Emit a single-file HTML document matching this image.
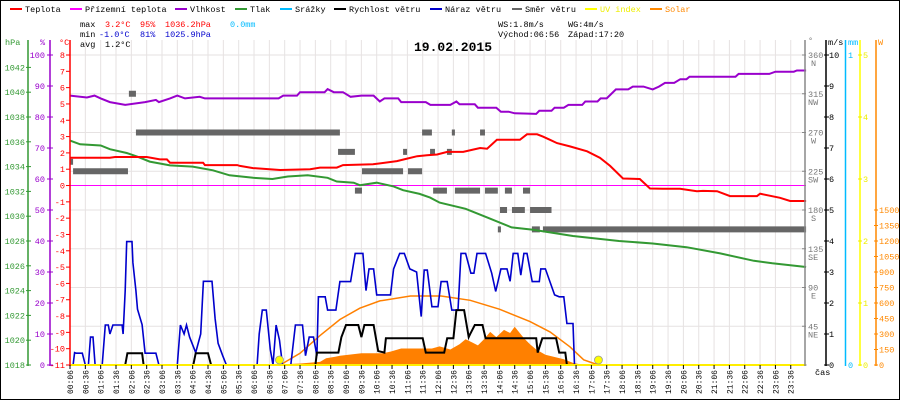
<!DOCTYPE html>
<html><head><meta charset="utf-8">
<style>
html,body{margin:0;padding:0;background:#fff;}
svg{display:block;font-family:"Liberation Mono",monospace;}
</style></head>
<body>
<svg id="chart" width="900" height="400" viewBox="0 0 900 400" xmlns="http://www.w3.org/2000/svg">
<rect x="0.5" y="0.5" width="899" height="399" fill="#fff" stroke="#000"/>
<g id="grid"></g>
<g id="legend" font-size="8.5">
  <g><rect x="10" y="8" width="12" height="2" fill="#f00"/><text x="25" y="12">Teplota</text></g>
  <g><rect x="70" y="8" width="12" height="2" fill="#f0f"/><text x="85" y="12">Přízemní teplota</text></g>
  <g><rect x="175" y="8" width="12" height="2" fill="#90c"/><text x="190" y="12">Vlhkost</text></g>
  <g><rect x="235" y="8" width="12" height="2" fill="#393"/><text x="250" y="12">Tlak</text></g>
  <g><rect x="280" y="8" width="12" height="2" fill="#0bf"/><text x="295" y="12">Srážky</text></g>
  <g><rect x="334" y="8" width="12" height="2" fill="#000"/><text x="349" y="12">Rychlost větru</text></g>
  <g><rect x="430" y="8" width="12" height="2" fill="#00c"/><text x="445" y="12">Náraz větru</text></g>
  <g><rect x="512" y="8" width="10" height="2" fill="#666"/><text x="525" y="12">Směr větru</text></g>
  <g><rect x="585" y="8" width="12" height="2" fill="#ff0"/><text x="600" y="12" fill="#ee0">UV index</text></g>
  <g><rect x="650" y="8" width="12" height="2" fill="#f80"/><text x="665" y="12" fill="#f80">Solar</text></g>
</g>
<g font-size="8.5">
  <text x="80" y="27">max</text><text x="105" y="27" fill="#f00">3.2°C</text><text x="140" y="27" fill="#f00">95%</text><text x="165" y="27" fill="#f00">1036.2hPa</text><text x="230" y="27" fill="#0bf">0.0mm</text>
  <text x="80" y="37">min</text><text x="99" y="37" fill="#00c">-1.0°C</text><text x="140" y="37" fill="#00c">81%</text><text x="165" y="37" fill="#00c">1025.9hPa</text>
  <text x="80" y="47">avg</text><text x="105" y="47">1.2°C</text>
  <text x="498" y="27">WS:1.8m/s</text><text x="568" y="27">WG:4m/s</text>
  <text x="498" y="37">Východ:06:56</text><text x="568" y="37">Západ:17:20</text>
</g>
<text x="414" y="51" font-size="13" font-weight="bold">19.02.2015</text>
<g id="series"></g>
<g id="axes" font-size="8.5"></g>
</svg>
<script>
// ---- data ----
const tempT = [0.1,1.4,1.57,2.6,3.03,3.26,3.36,4.44,4.5,5.55,5.64,6.07,6.95,7.93,8.25,8.8,9.0,9.98,10.76,11.09,11.42,11.74,12.07,12.4,12.92,13.24,13.47,13.7,14.02,14.77,15.0,15.33,15.52,15.75,15.98,16.4,16.96,17.38,17.71,18.13,18.68,19.01,19.43,19.99,20.54,20.74,21.2,21.62,22.5,22.6,23.25,23.58,24.1];
const tempV = [1.7,1.7,1.75,1.75,1.6,1.6,1.4,1.4,1.25,1.25,1.2,1.07,0.95,1.0,1.1,1.1,1.25,1.3,1.5,1.65,1.8,1.85,1.9,2.06,2.06,2.2,2.3,2.26,2.8,2.8,3.14,3.14,3.0,2.8,2.6,2.4,2.1,1.7,1.2,0.43,0.4,-0.18,-0.2,-0.2,-0.35,-0.33,-0.35,-0.65,-0.65,-0.5,-0.75,-0.95,-0.95];
const humT = [0.1,0.65,0.9,1.1,1.4,1.9,2.55,2.9,3.0,3.36,3.6,3.85,4.33,4.5,6.9,7.05,7.5,7.6,8.4,8.5,8.7,9.0,9.25,9.6,10.0,10.2,10.35,10.8,10.9,11.7,11.85,12.5,12.7,12.8,13.3,13.4,14.0,14.15,14.4,14.6,15.3,15.4,15.8,15.9,16.2,16.35,16.8,16.9,17.3,17.4,17.6,17.9,18.3,18.45,18.8,19.1,19.3,19.5,19.8,20.0,20.2,20.3,21.8,21.9,22.9,23.1,23.7,23.8,24.1];
const humV = [86.9,86.3,86.9,86,84.8,83.9,84.8,85.5,84.8,86,86.9,86,86.5,86,86,86.9,86.9,88,88,89,88,88,86.5,86.9,86.9,85,86,86,84.8,84.8,83.9,83.9,85,84.1,84.1,83,83,81.7,81.7,81.2,81,82,82,83,83,83.9,83.9,85,85,86,86,88.9,88.9,89.8,89.8,88.9,89.8,91,91,92.2,92.2,93,93,93.9,93.9,94.6,94.6,95,95];
const presT = [0.1,0.43,1.1,1.4,1.95,2.3,2.7,3.36,4.1,4.76,5.3,6.07,6.7,7.2,7.85,8.5,8.8,9.35,9.55,10.1,10.65,10.96,11.5,11.84,12.15,13.0,13.7,14.5,15.2,16.5,18.0,19.1,20.2,21.3,22.4,23.0,24.1];
const presV = [1036.1,1035.8,1035.7,1035.4,1035.1,1034.8,1034.4,1034.1,1034.0,1033.7,1033.3,1033.1,1033.0,1033.2,1033.3,1033.1,1032.8,1032.7,1032.5,1032.7,1032.4,1032.1,1031.8,1031.5,1031.1,1030.6,1029.9,1029.1,1028.9,1028.4,1028.0,1027.8,1027.5,1027.0,1026.4,1026.2,1025.9];
const gustT = [0.1,0.2,0.25,0.3,0.5,0.6,0.7,0.77,0.85,0.92,1.15,1.25,1.35,1.4,1.5,1.8,1.83,1.9,1.95,2.12,2.15,2.25,2.3,2.45,2.55,2.9,3.0,3.6,3.7,3.82,3.9,4.0,4.2,4.36,4.45,4.73,4.83,4.93,5.08,5.2,6.2,6.27,6.37,6.5,6.63,6.72,6.82,6.93,7.03,7.3,7.45,7.68,7.78,7.9,8.04,8.15,8.2,8.42,8.5,8.77,8.9,9.25,9.4,9.65,9.75,9.85,10.0,10.1,10.55,10.65,10.85,11.0,11.18,11.4,11.55,11.65,11.75,11.9,12.1,12.2,12.4,12.55,12.75,12.85,13.0,13.17,13.27,13.37,13.65,13.85,13.98,14.15,14.35,14.45,14.55,14.7,14.8,14.9,15.0,15.17,15.4,15.45,15.6,15.9,16.05,16.2,16.3,16.5,16.55,24.1];
const gustV = [0,0,0.4,0.38,0.38,0,0,0.9,0.9,0,0,1.29,1.29,1.0,1.29,1.29,1.0,2.4,3.98,3.98,3.3,2.4,1.8,1.3,0.38,0.38,0,0,1.29,1.0,1.29,0.9,0.4,1.0,2.7,2.7,1.5,0.7,0.3,0,0,1.0,1.77,1.77,0.5,0,1.29,0.8,0,0,1.29,1.29,0.3,0.9,0.9,0.3,2.2,2.2,1.77,1.77,2.69,2.69,3.6,3.6,2.4,3.1,3.1,2.26,2.26,3.1,3.6,3.6,3.1,3.0,1.56,3.06,3.06,1.88,1.88,2.69,2.69,1.77,1.77,3.6,3.6,2.96,2.96,3.6,3.6,2.96,2.37,3.1,3.1,2.7,3.6,3.6,2.9,3.6,3.6,2.69,2.69,3.1,3.1,2.26,2.2,2.2,1.34,1.34,0,0];
const windT = [0.1,1.9,1.97,2.45,2.5,4.12,4.2,4.6,4.7,8.1,8.15,8.85,8.95,9.1,9.5,9.6,9.7,10.0,10.15,10.35,10.4,11.6,11.7,12.3,12.4,12.6,12.7,12.95,13.1,13.15,13.3,13.55,13.65,15.3,15.35,15.5,15.95,16.05,16.25,16.3,24.1];
const windV = [0,0,0.38,0.38,0,0,0.38,0.38,0,0,0.4,0.4,0.9,1.29,1.29,0.9,1.29,1.29,0.45,0.4,0.86,0.86,0.4,0.4,0.86,0.86,1.77,1.77,0.9,1.0,1.29,1.29,0.86,0.86,0.4,0.86,0.86,0.4,0.4,0,0];
const solarT = [6.5,6.85,7.6,8.25,8.45,8.75,8.9,9.6,10.3,10.55,10.9,11.9,12.15,12.5,12.8,13.0,13.2,13.4,13.6,13.8,14.0,14.25,14.45,14.6,14.9,15.1,15.3,15.6,16.2,16.5,16.85];
const solarV = [0,5,15,30,65,80,90,113,113,130,160,160,180,150,200,250,220,190,250,320,270,340,310,370,260,200,150,100,55,20,0];
const clearT = [6.95,7.6,8.25,8.9,9.55,10.2,11.2,12.2,13.15,14.1,15.1,15.75,16.4,16.85,17.33];
const clearV = [0,113,285,440,550,620,668,668,626,540,420,320,176,50,0];
const dirStart = [0.1,0.2,2.02,2.25,8.84,9.39,9.62,10.96,11.12,11.58,11.84,11.94,12.39,12.55,12.65,13.47,13.63,14.05,14.12,14.28,14.51,14.87,15.1,15.16,15.52];
const dirEnd   = [0.2,1.99,2.25,8.9,9.39,9.62,10.96,11.09,11.58,11.9,12.0,12.39,12.55,12.65,13.47,13.63,14.05,14.15,14.35,14.51,14.93,15.1,15.8,15.42,24.1];
const dirDeg   = [236,225,315,270,247.5,202.5,225,247.5,225,270,247.5,202.5,247.5,270,202.5,270,202.5,157.5,180,202.5,180,202.5,180,157.5,157.5];
const uvMarkT = [6.93,17.33];
const uvMarkV = [0,0];
const hpaTicks = [1042,1040,1038,1036,1034,1032,1030,1028,1026,1024,1022,1020,1018];
const pctTicks = [100,90,80,70,60,50,40,30,20,10,0];
const degTicks = [360,315,270,225,180,135,90,45];
const degNames = ["N","NW","W","SW","S","SE","E","NE"];
const msTicks = [10,9,8,7,6,5,4,3,2,1,0];
const uvTicks = [5,4,3,2,1,0];
const wTicks = [1500,1350,1200,1050,900,750,600,450,300,150,0];
const timeLabels = [];
for (let i = 0; i < 48; i++) { const h = Math.floor(i/2), m = i%2 ? 36 : 6; timeLabels.push(String(h).padStart(2,'0') + ':' + String(m).padStart(2,'0')); }

// ---- scales ----
const X = h => 70 + (h - 0.1) * 30.67;
const yT = t => 55 + (8 - t) * 310 / 19;
const yH = p => 365 - p * 3.1;
const yP = p => 55 + (1043 - p) * 12.4;
const yV = v => 365 - v * 31;
const yD = d => 365 - d * 310 / 360;
const yS = w => 365 - w * 0.103333;
const yU = u => 365 - u * 62;

const NS = 'http://www.w3.org/2000/svg';
function mk(parent, tag, attrs, txt) {
  const e = document.createElementNS(NS, tag);
  for (const k in attrs) e.setAttribute(k, attrs[k]);
  if (txt !== undefined) e.textContent = txt;
  parent.appendChild(e);
  return e;
}
const grid = document.getElementById('grid');
const series = document.getElementById('series');
const axes = document.getElementById('axes');

for (let i = 0; i < 48; i++) {
  const x = 70 + i * 15.335;
  const l = mk(grid, 'line', {x1:x, x2:x, y1:40, y2:365, stroke:'#e6e2e2', 'stroke-width':1});
  
  
}
for (let i = 0; i <= 8; i++) {
  const y = 55 + i * 38.75;
  const l = mk(grid, 'line', {x1:70, x2:806, y1:y, y2:y, stroke:'#e6e2e2', 'stroke-width':1});
  
  
}
const zl = mk(grid, 'line', {x1:70, x2:806, y1:yT(0), y2:yT(0), stroke:'#999', 'stroke-width':1});



function pts(T, V, fy) { return T.map((t, i) => X(t).toFixed(1) + ',' + fy(V[i]).toFixed(1)).join(' '); }

const sp = mk(series, 'polygon', {points: X(solarT[0]) + ',365 ' + pts(solarT, solarV, yS) + ' ' + X(solarT[solarT.length-1]) + ',365', fill:'#ff8000'});


const cs = mk(series, 'polyline', {points: pts(clearT, clearV, yS), fill:'none', stroke:'#ff8000', 'stroke-width':1.5});


for (let i = 0; i < dirDeg.length; i++) {
  const r = mk(series, 'rect', {x: X(dirStart[i]), y: yD(dirDeg[i]) - 3, width: X(dirEnd[i]) - X(dirStart[i]), height: 6, fill:'#666'});
  
  
}
const gt = mk(series, 'line', {x1:70, x2:806, y1:yT(0), y2:yT(0), stroke:'#f0f', 'stroke-width':1});


const pl = mk(series, 'polyline', {points: pts(presT, presV, yP), fill:'none', stroke:'#339933', 'stroke-width':2});


const hl = mk(series, 'polyline', {points: pts(humT, humV, yH), fill:'none', stroke:'#9900cc', 'stroke-width':2});


const tl = mk(series, 'polyline', {points: pts(tempT, tempV, yT), fill:'none', stroke:'#f00', 'stroke-width':2});


const gl = mk(series, 'polyline', {points: pts(gustT, gustV, yV), fill:'none', stroke:'#0000cc', 'stroke-width':1.6});


const wl = mk(series, 'polyline', {points: pts(windT, windV, yV), fill:'none', stroke:'#000', 'stroke-width':2});


const ub = mk(series, 'line', {x1:70, x2:806, y1:365, y2:365, stroke:'#ffee00', 'stroke-width':2});


for (let i = 0; i < uvMarkT.length; i++) {
  const c = mk(series, 'circle', {cx: X(uvMarkT[i]), cy: yU(uvMarkV[i]) - 5, r: 4, fill:'#ff0', stroke:'#999', 'stroke-width':0.8});
  
  
}

function vaxis(x, color, name) {
  const l = mk(axes, 'line', {x1:x, x2:x, y1:40, y2:366, stroke:color, 'stroke-width':1.5});
  
  
}
vaxis(28, '#339933', 'hpa-axis');
vaxis(50, '#9900cc', 'humidity-axis');
vaxis(70, '#f00', 'temperature-axis');
vaxis(805, '#888', 'direction-axis');
vaxis(826, '#000', 'wind-axis');
vaxis(845.5, '#0bf', 'rain-axis');
vaxis(860, '#ff0', 'uv-axis');
vaxis(876, '#f80', 'solar-axis');

function tickLab(x, y, txt, color, anchor, name) {
  const t = mk(axes, 'text', {x:x, y:y + 3, fill:color, 'text-anchor':anchor}, txt);
  
  
}
hpaTicks.forEach(p => { mk(axes, 'line', {x1:26, x2:31, y1:yP(p), y2:yP(p), stroke:'#339933'}); tickLab(25, yP(p), String(p), '#339933', 'end', 'hpa-tick-label'); });
pctTicks.forEach(p => { mk(axes, 'line', {x1:47, x2:53, y1:yH(p), y2:yH(p), stroke:'#9900cc'}); tickLab(45, yH(p), String(p), '#9900cc', 'end', 'humidity-tick-label'); });
for (let t = 8; t >= -11; t--) { mk(axes, 'line', {x1:66, x2:70, y1:yT(t), y2:yT(t), stroke:'#f00'}); tickLab(65, yT(t), String(t), '#f00', 'end', 'temperature-tick-label'); }
degTicks.forEach((d, i) => { mk(axes, 'line', {x1:802, x2:806, y1:yD(d), y2:yD(d), stroke:'#888'}); tickLab(808, yD(d), String(d), '#777', 'start', 'direction-tick-label'); tickLab(808 + (degNames[i].length === 1 ? 3 : 0), yD(d) + 8, degNames[i], '#777', 'start', 'direction-name-label'); });
msTicks.forEach(v => { mk(axes, 'line', {x1:824, x2:829, y1:yV(v), y2:yV(v), stroke:'#000'}); tickLab(829, yV(v), String(v), '#000', 'start', 'wind-tick-label'); });
tickLab(848, 55, '1', '#0bf', 'start', 'rain-tick-label');
tickLab(848, 365, '0', '#0bf', 'start', 'rain-tick-label');
uvTicks.forEach(u => { mk(axes, 'line', {x1:858, x2:862, y1:yU(u), y2:yU(u), stroke:'#ee0'}); tickLab(863, yU(u), String(u), '#ee0', 'start', 'uv-tick-label'); });
wTicks.forEach(w => { mk(axes, 'line', {x1:874, x2:878, y1:yS(w), y2:yS(w), stroke:'#f80'}); tickLab(879, yS(w), String(w), '#f80', 'start', 'solar-tick-label'); });

tickLab(5, 42, 'hPa', '#339933', 'start', 'hpa-unit');
tickLab(40, 42, '%', '#9900cc', 'start', 'humidity-unit');
tickLab(59, 42, '°C', '#f00', 'start', 'temperature-unit');
tickLab(808, 40, '°', '#777', 'start', 'direction-unit');
tickLab(828, 42, 'm/s', '#000', 'start', 'wind-unit');
tickLab(848, 42, 'mm', '#0bf', 'start', 'rain-unit');
tickLab(878, 42, 'W', '#f80', 'start', 'solar-unit');
tickLab(815, 372, 'čas', '#000', 'start', 'time-axis-title');

timeLabels.forEach((s, i) => {
  const x = 70 + i * 15.335;
  mk(axes, 'line', {x1:x, x2:x, y1:365, y2:369, stroke:'#000'});
  const t = mk(axes, 'text', {x:0, y:0, 'font-size':8, 'text-anchor':'end', transform:'translate(' + (x + 3) + ',370) rotate(-90)'}, s);
  
  
});
</script>
</body></html>
